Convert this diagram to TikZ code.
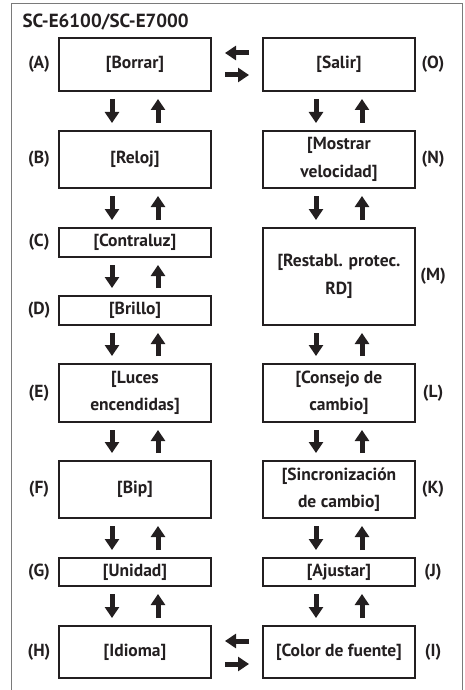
\documentclass[tikz,border=0pt]{standalone}
\usepackage{fontspec}
\setmainfont{PT Sans}
\usetikzlibrary{arrows.meta}
\definecolor{marco}{HTML}{7A7A7A}
\definecolor{tinta}{HTML}{231F20}

\begin{document}
\begin{tikzpicture}[x=1pt,y=-1pt,
  menu/.style={draw=tinta,line width=1.2pt,minimum width=152pt,outer sep=0pt,inner sep=2pt,
    align=center,text=tinta,font=\fontsize{17.5}{27.5}\selectfont\bfseries},
  tag/.style={text=tinta,font=\fontsize{17.5}{20}\selectfont\bfseries},
  blk/.style={-{Triangle[length=11pt,width=14pt]},line width=5pt,tinta,shorten >=8pt,shorten <=8pt},
  blkh/.style={blk,shorten >=14pt,shorten <=14pt}]
  \useasboundingbox (0,0) rectangle (465,690);
  % marco y titulo
  \draw[marco,line width=1pt] (11,690) |- (462,4) -- (462,690);
  \node[tag,anchor=west,font=\fontsize{19}{22}\selectfont\bfseries] (titulo) at (19,22) {SC-E6100/SC-E7000};
  % columna izquierda
  \node[menu,minimum height=53pt] (A) at (135,64.5) {[Borrar]};
  \node[menu,minimum height=57pt] (B) at (135,159.5) {[Reloj]};
  \node[menu,minimum height=29pt] (C) at (135,242.5) {[Contraluz]};
  \node[menu,minimum height=29pt] (D) at (135,310.5) {[Brillo]};
  \node[menu,minimum height=58pt] (E) at (135,393) {[Luces\\encendidas]};
  \node[menu,minimum height=57pt] (F) at (135,489.5) {[Bip]};
  \node[menu,minimum height=28pt] (G) at (135,572) {[Unidad]};
  \node[menu,minimum height=52pt] (H) at (135,652) {[Idioma]};
  % columna derecha
  \node[menu,minimum height=53pt] (O) at (339,64.5) {[Salir]};
  \node[menu,minimum height=57pt] (N) at (339,159.5) {[Mostrar\\velocidad]};
  \node[menu,minimum height=97pt] (M) at (339,276.5) {[Restabl. protec.\\RD]};
  \node[menu,minimum height=58pt] (L) at (339,393) {[Consejo de\\cambio]};
  \node[menu,minimum height=57pt] (K) at (339,489.5) {[Sincronización\\de cambio]};
  \node[menu,minimum height=28pt] (J) at (339,572) {[Ajustar]};
  \node[menu,minimum height=52pt] (I) at (339,652) {[Color de fuente]};
  % letras
  \node[tag] (tA) at (39,64.5) {(A)};
  \node[tag] (tB) at (39,159.5) {(B)};
  \node[tag] (tC) at (39,242.5) {(C)};
  \node[tag] (tD) at (39,310.5) {(D)};
  \node[tag] (tE) at (39,393) {(E)};
  \node[tag] (tF) at (39,489.5) {(F)};
  \node[tag] (tG) at (39,572) {(G)};
  \node[tag] (tH) at (39,652) {(H)};
  \node[tag] (tO) at (433,64.5) {(O)};
  \node[tag] (tN) at (433,159.5) {(N)};
  \node[tag] (tM) at (433,276.5) {(M)};
  \node[tag] (tL) at (433,393) {(L)};
  \node[tag] (tK) at (433,489.5) {(K)};
  \node[tag] (tJ) at (433,572) {(J)};
  \node[tag] (tI) at (433,652) {(I)};
  % flechas verticales
  \foreach \a/\b in {A/B,B/C,C/D,D/E,E/F,F/G,G/H,O/N,N/M,M/L,L/K,K/J,J/I}{
    \draw[blk] ([xshift=-23pt]\a.south) -- ([xshift=-23pt]\b.north);
    \draw[blk] ([xshift=23pt]\b.north) -- ([xshift=23pt]\a.south);
  }
  % flechas horizontales
  \draw[blkh] ([yshift=11.5pt]O.west) -- ([yshift=11.5pt]A.east);
  \draw[blkh] ([yshift=-10.5pt]A.east) -- ([yshift=-10.5pt]O.west);
  \draw[blkh] ([yshift=11pt]I.west) -- ([yshift=11pt]H.east);
  \draw[blkh] ([yshift=-12pt]H.east) -- ([yshift=-12pt]I.west);
\end{tikzpicture}
\end{document}
